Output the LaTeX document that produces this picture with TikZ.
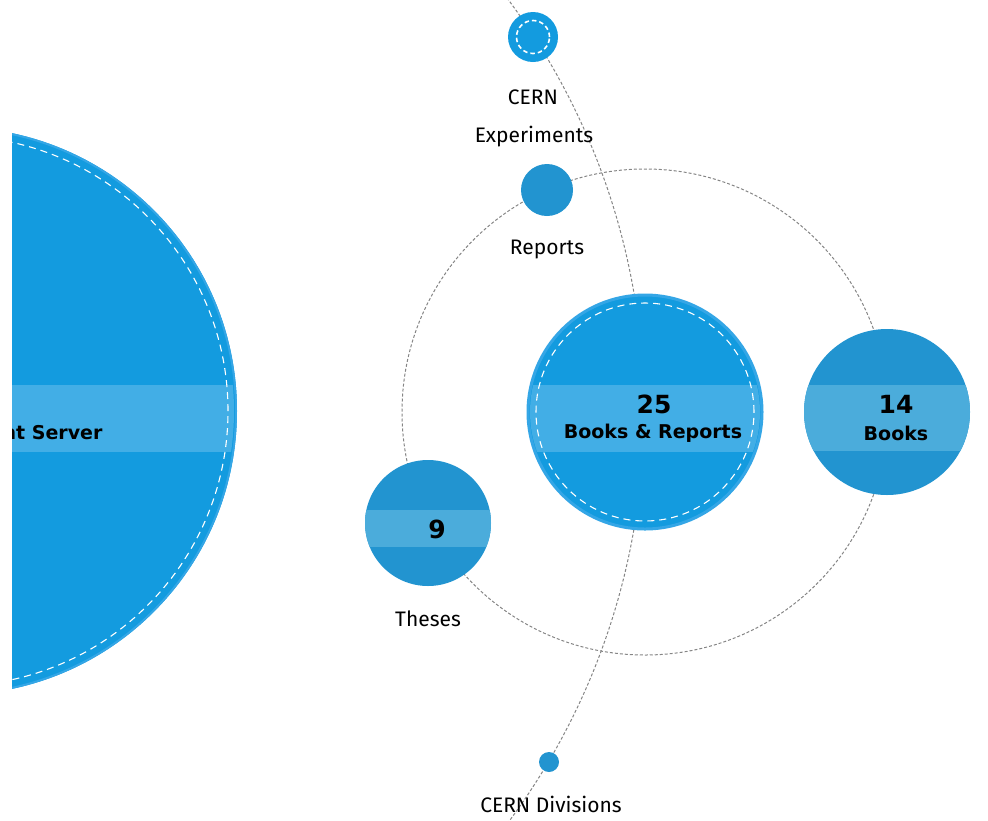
\documentclass[tikz,border=0pt]{standalone}
\usepackage{fontspec}
\setmainfont{DejaVu Sans}
\newfontfamily\captionface{Fira Sans}
\definecolor{mainblue}{HTML}{139BDF}
\definecolor{mainband}{HTML}{42AEE6}
\definecolor{rimblue}{HTML}{34A6E6}
\definecolor{subblue}{HTML}{2294D0}
\definecolor{subband}{HTML}{4BACDB}
\definecolor{orbitgray}{HTML}{858585}
\begin{document}
\begin{tikzpicture}[x=1pt,y=-1pt,
  orbit/.style={draw=orbitgray, line width=1pt, dash pattern=on 3pt off 2pt},
  hubdisc/.style={fill=mainblue, draw=rimblue, line width=3pt},
  satdisc/.style={fill=subblue},
  ring/.style={draw=white, line width=1.1pt, dash pattern=on 7pt off 5pt},
  count/.style={font=\bfseries\fontsize{25}{27}\selectfont, text=black},
  title/.style={font=\bfseries\fontsize{19}{21}\selectfont, text=black},
  caption/.style={font=\captionface\fontsize{21}{23}\selectfont, text=black}]
\useasboundingbox (0,0) rectangle (988,820);

% centres
\coordinate (cds) at (-47,411);
\coordinate (br) at (645,412);
\coordinate (bk) at (887,412);
\coordinate (th) at (428,523);
\coordinate (rp) at (547,190);
\coordinate (ex) at (533,37);
\coordinate (dv) at (549,762);

% orbits
\draw[orbit] (cds) circle[radius=691pt];
\draw[orbit] (br) circle[radius=243pt];

% document server (left, cut by the frame edge)
\begin{scope}
  \clip (12,0) rectangle (988,820);
  \fill[mainblue] (cds) circle[radius=284pt];
  \begin{scope}
    \clip (cds) circle[radius=281pt];
    \fill[mainband] (-400,385) rectangle (300,452);
  \end{scope}
  \draw[draw=rimblue, line width=2pt] (cds) circle[radius=283pt];
  \draw[ring] (cds) circle[radius=275pt];
  \node[title, anchor=east] (cdsname) at (106,433) {CERN Document Server};
\end{scope}

% books & reports hub
\node[circle, hubdisc, minimum size=234pt, inner sep=0pt] (brdisc) at (br) {};
\begin{scope}
  \clip (br) circle[radius=115pt];
  \fill[mainband] (520,385) rectangle (770,452);
\end{scope}
\draw[ring] (br) circle[radius=109pt];
\node[count] (brcount) at (654,404) {25};
\node[title] (brname) at (653,433) {Books \& Reports};

% books
\node[circle, satdisc, minimum size=166pt, inner sep=0pt] (bkdisc) at (bk) {};
\begin{scope}
  \clip (bk) circle[radius=83pt];
  \fill[subband] (800,385) rectangle (980,451);
\end{scope}
\node[count] (bkcount) at (896,404) {14};
\node[title] (bkname) at (896,433) {Books};

% theses
\node[circle, satdisc, minimum size=126pt, inner sep=0pt] (thdisc) at (th) {};
\begin{scope}
  \clip (th) circle[radius=63pt];
  \fill[subband] (360,510) rectangle (500,547);
\end{scope}
\node[count] (thcount) at (437,529) {9};
\node[caption] (thname) at (428,619) {Theses};

% reports
\node[circle, satdisc, minimum size=52pt, inner sep=0pt] (rpdisc) at (rp) {};
\node[caption] (rpname) at (547,249) {Reports};

% experiments
\node[circle, fill=mainblue, minimum size=50pt, inner sep=0pt] (exdisc) at (ex) {};
\draw[ring, line width=1.6pt, dash pattern=on 4.5pt off 3pt] (ex) circle[radius=16.5pt];
\node[caption] (exname1) at (533,97) {CERN};
\node[caption] (exname2) at (534,137) {Experiments};

% divisions
\node[circle, satdisc, minimum size=20pt, inner sep=0pt] (dvdisc) at (dv) {};
\node[caption] (dvname) at (551,804) {CERN Divisions};
\end{tikzpicture}
\end{document}
